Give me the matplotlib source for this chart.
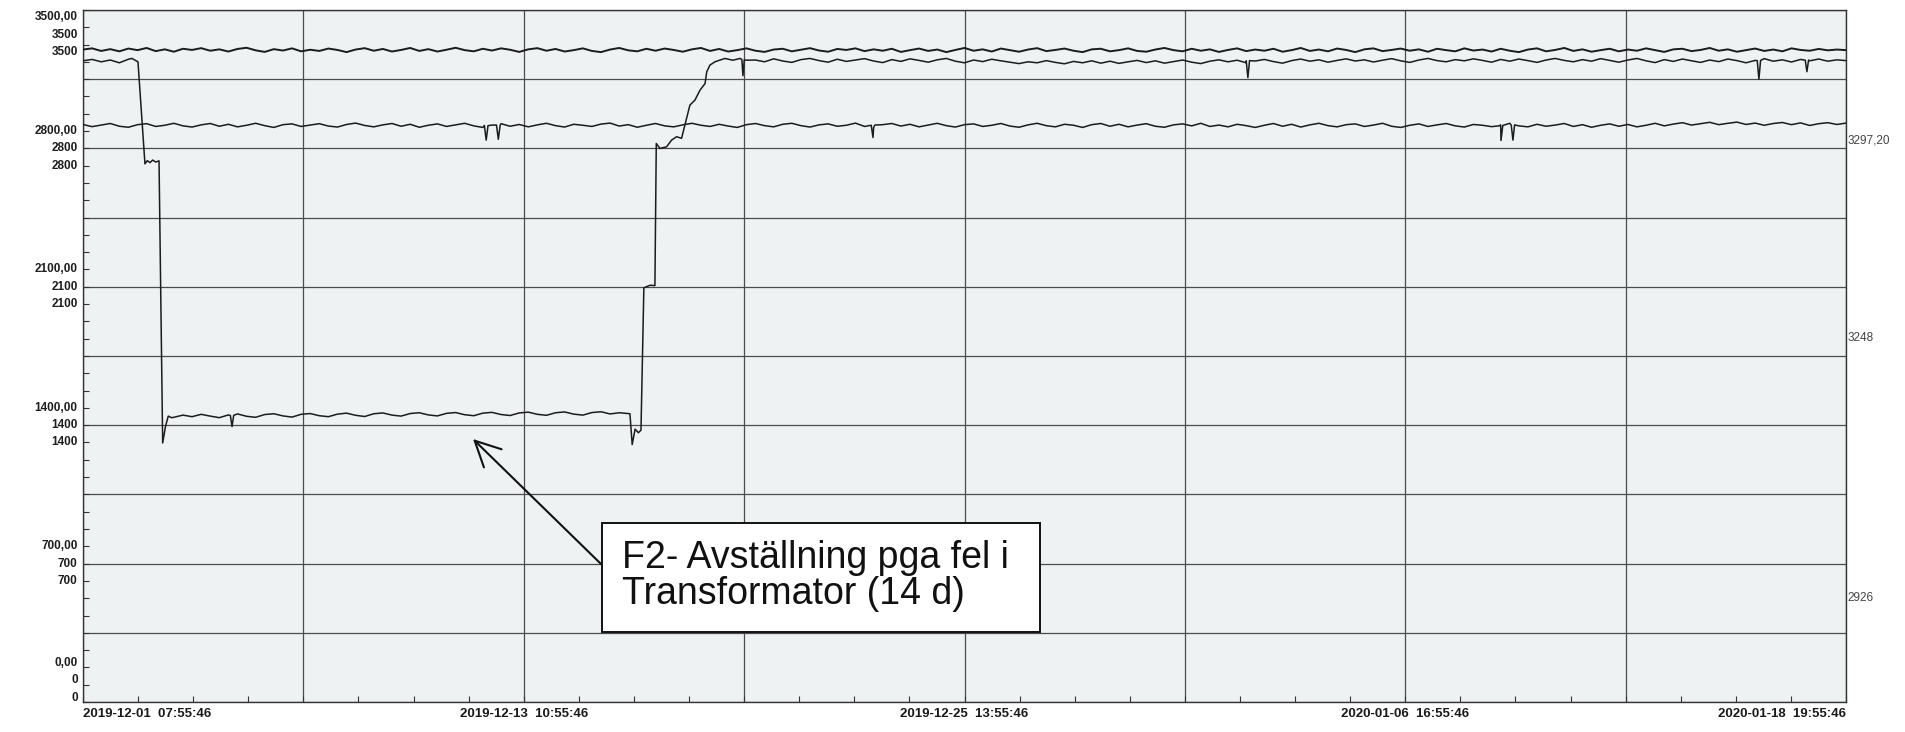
import numpy as np
import pandas as pd
import matplotlib
matplotlib.use("Agg")
import matplotlib.pyplot as plt
from matplotlib.patches import Rectangle
from matplotlib.transforms import blended_transform_factory

plt.rcParams['font.family'] = ['Liberation Sans', 'DejaVu Sans']

# ---------------- data ----------------
START = pd.Timestamp("2019-12-01 07:55:46")
SPAN_HOURS = 1164          # 2019-12-01 07:55:46 -> 2020-01-18 19:55:46
STEP_HOURS = 6             # spacing of the regular readings
DIV_HOURS = 145.5          # one vertical grid division

x_tick_labels = ["2019-12-01  07:55:46", "2019-12-13  10:55:46",
                 "2019-12-25  13:55:46", "2020-01-06  16:55:46",
                 "2020-01-18  19:55:46"]

y_levels = [0, 700, 1400, 2100, 2800, 3500]
y_labels_upper = ["0,00", "700,00", "1400,00", "2100,00", "2800,00", "3500,00"]
y_labels_mid = ["0", "700", "1400", "2100", "2800", "3500"]
y_labels_low = ["0", "700", "1400", "2100", "2800", "3500"]

right_labels = ["3297,20", "3248", "2926"]

# Series A (top line), every 6 h
a_vals = [
    3300, 3306, 3293, 3302, 3291, 3305, 3297, 3308, 3292, 3301, 3289, 3304, 3298,
    3307, 3294, 3301, 3290, 3303, 3309, 3296, 3288, 3302, 3295, 3306, 3291, 3299,
    3293, 3305, 3298, 3287, 3300, 3307, 3294, 3303, 3290, 3298, 3308, 3293, 3302,
    3290, 3299, 3309, 3297, 3291, 3304, 3295, 3306, 3299, 3288, 3301, 3307, 3294,
    3303, 3290, 3297, 3306, 3293, 3287, 3300, 3308, 3296, 3291, 3304, 3294, 3305,
    3298, 3289, 3301, 3308, 3293, 3303, 3290, 3297, 3306, 3294, 3288, 3300, 3304,
    3291, 3299, 3307, 3295, 3289, 3303, 3298, 3306, 3292, 3301, 3294, 3304, 3288,
    3297, 3305, 3293, 3300, 3287, 3298, 3308, 3294, 3301, 3290, 3305, 3297, 3289,
    3300, 3307, 3292, 3298, 3305, 3294, 3287, 3301, 3304, 3291, 3297, 3306, 3293,
    3289, 3300, 3308, 3297, 3291, 3304, 3294, 3301, 3288, 3298, 3306, 3292, 3300,
    3294, 3304, 3289, 3297, 3308, 3293, 3300, 3291, 3305, 3298, 3287, 3301, 3306,
    3292, 3298, 3305, 3294, 3301, 3289, 3304, 3297, 3291, 3306, 3295, 3300, 3290,
    3304, 3294, 3287, 3300, 3306, 3291, 3298, 3308, 3293, 3301, 3289, 3297, 3304,
    3291, 3300, 3294, 3306, 3297, 3288, 3301, 3304, 3292, 3298, 3308, 3294, 3301,
    3289, 3297, 3305, 3293, 3300, 3291, 3306, 3298, 3294, 3303, 3296, 3300, 3297,
]

# Series C (lower steady line), every 6 h
c_vals = [
    2921, 2910, 2918, 2926, 2912, 2907, 2920, 2925, 2911, 2917, 2927, 2914, 2908,
    2919, 2926, 2912, 2922, 2909, 2917, 2927, 2915, 2906, 2920, 2924, 2911, 2918,
    2925, 2913, 2908, 2921, 2928, 2916, 2909, 2919, 2926, 2912, 2922, 2907, 2917,
    2924, 2911, 2919, 2927, 2914, 2906, 2918, 2925, 2912, 2921, 2909, 2919, 2927,
    2915, 2908, 2922, 2917, 2911, 2923, 2928, 2913, 2920, 2907, 2917, 2926, 2914,
    2909, 2919, 2927, 2917, 2911, 2922, 2913, 2906, 2920, 2926, 2915, 2909, 2922,
    2927, 2915, 2908, 2919, 2924, 2912, 2917, 2928, 2911, 2906, 2920, 2926, 2913,
    2922, 2909, 2918, 2927, 2915, 2908, 2920, 2924, 2911, 2917, 2926, 2913, 2907,
    2919, 2927, 2915, 2909, 2922, 2917, 2906, 2920, 2926, 2912, 2922, 2909, 2918,
    2925, 2912, 2907, 2919, 2924, 2914, 2927, 2911, 2918, 2909, 2922, 2915, 2906,
    2917, 2926, 2912, 2922, 2908, 2919, 2927, 2915, 2909, 2920, 2924, 2911, 2918,
    2927, 2912, 2906, 2917, 2924, 2911, 2919, 2926, 2914, 2908, 2921, 2917, 2910,
    2919, 2927, 2914, 2909, 2922, 2912, 2918, 2926, 2911, 2920, 2907, 2917, 2924,
    2912, 2921, 2909, 2917, 2927, 2914, 2923, 2930, 2918, 2925, 2932, 2920, 2927,
    2933, 2921, 2928, 2917, 2926, 2931, 2920, 2929, 2916, 2925, 2930, 2921, 2928,
]
c_dip_hours = [265.0, 266.2, 267.4, 273.0, 274.2, 275.4, 520.4, 521.6, 522.8,
               935.0, 936.2, 937.4, 943.0, 944.1, 945.2]
c_dip_vals = [2916, 2842, 2915, 2918, 2846, 2916, 2917, 2855, 2918,
              2914, 2840, 2916, 2917, 2842, 2919]

# Series B (unit with the outage)
b_pre_hours = [0, 6, 12, 18, 24, 30, 32.3, 34.5, 36.3, 40.9, 42.5, 44.2, 46.0,
               48.0, 50.2, 52.6, 54.5, 56.3, 58.5]
b_pre_vals = [3243, 3250, 3238, 3247, 3233, 3251, 3255, 3246, 3238, 2722, 2738,
              2728, 2741, 2731, 2737, 1310, 1395, 1446, 1438]
b_off_start = 60            # regular 6 h readings during the stop
b_off_vals = [
    1440, 1451, 1443, 1455, 1446, 1438, 1452, 1457, 1445, 1440, 1454, 1458, 1447,
    1441, 1455, 1459, 1448, 1443, 1456, 1461, 1450, 1444, 1458, 1462, 1451, 1446,
    1459, 1463, 1452, 1447, 1460, 1464, 1453, 1448, 1461, 1465, 1454, 1449, 1462,
    1466, 1455, 1450, 1463, 1467, 1456, 1451, 1464, 1468, 1457, 1463, 1459,
]
b_rise_hours = [361.1, 362.6, 364.5, 366.7, 368.4, 370.3, 374.5, 377.6, 378.5,
                380.9, 385.3, 388.6, 391.9, 395.2, 397.4, 400.7, 404.0, 407.4,
                410.7, 411.8, 413.9, 417.2, 423.8, 429.1, 433.8, 435.0, 435.7,
                436.6, 438.1]
b_rise_vals = [1458, 1302, 1380, 1362, 1375, 2095, 2108, 2106, 2825,
               2800, 2808, 2842, 2859, 2851, 2918, 3019, 3044, 3095,
               3128, 3187, 3221, 3238, 3255, 3246, 3255, 3250, 3168,
               3248, 3246]
b_on_start = 444            # regular 6 h readings after restart
b_on_vals = [
    3247, 3238, 3253, 3242, 3235, 3249, 3255, 3244, 3236, 3251, 3240, 3247, 3254,
    3242, 3234, 3249, 3240, 3253, 3245, 3236, 3248, 3255, 3241, 3233, 3247, 3239,
    3251, 3243, 3236, 3229, 3238, 3233, 3244, 3235, 3228, 3240, 3233, 3243, 3231,
    3241, 3230, 3238, 3245, 3234, 3243, 3231, 3239, 3247, 3236, 3229, 3241, 3248,
    3238, 3246, 3233, 3242, 3250, 3239, 3231, 3244, 3252, 3241, 3248, 3236, 3245,
    3253, 3242, 3248, 3237, 3246, 3254, 3243, 3235, 3247, 3255, 3244, 3238, 3249,
    3243, 3253, 3245, 3236, 3250, 3241, 3252, 3244, 3235, 3247, 3255, 3245, 3238,
    3249, 3241, 3254, 3245, 3236, 3247, 3255, 3243, 3234, 3249, 3240, 3252, 3243,
    3235, 3247, 3239, 3252, 3244, 3233, 3245, 3254, 3241, 3248, 3237, 3250, 3243,
    3252, 3241, 3248, 3244,
]
b_dip_hours = [97.3, 98.4, 99.5, 768.0, 769.1, 770.2, 1105.4, 1106.5, 1107.6,
               1137.1, 1138.2, 1139.3]
b_dip_vals = [1449, 1393, 1450, 3243, 3158, 3244, 3244, 3150, 3245,
              3246, 3188, 3247]

annotation_text = "F2- Avställning pga fel i\nTransformator (14 d)"
arrow_tip_hours = 257.5
arrow_tip_value = 1330


# ---------------- helpers ----------------
def to_time(hours):
    return START + pd.to_timedelta(np.asarray(hours, dtype=float), unit="h")


def merge(h1, v1, h2, v2):
    h = np.concatenate([np.asarray(h1, float), np.asarray(h2, float)])
    v = np.concatenate([np.asarray(v1, float), np.asarray(v2, float)])
    order = np.argsort(h, kind="stable")
    return h[order], v[order]


a_h, a_v = np.arange(len(a_vals)) * STEP_HOURS, np.asarray(a_vals, float)
c_h, c_v = merge(np.arange(len(c_vals)) * STEP_HOURS, c_vals, c_dip_hours, c_dip_vals)

b_off_hours = b_off_start + np.arange(len(b_off_vals)) * STEP_HOURS
b_on_hours = b_on_start + np.arange(len(b_on_vals)) * STEP_HOURS
b_h = np.concatenate([b_pre_hours, b_off_hours, b_rise_hours, b_on_hours])
b_v = np.concatenate([b_pre_vals, b_off_vals, b_rise_vals, b_on_vals])
b_h, b_v = merge(b_h, b_v, b_dip_hours, b_dip_vals)

# ---------------- figure ----------------
W, H, DPI = 1905, 732, 100
fig = plt.figure(figsize=(W / DPI, H / DPI), dpi=DPI, facecolor="white")
ax = fig.add_axes([83 / W, 1 - 702 / H, (1846 - 83) / W, (702 - 10) / H])
ax.set_facecolor("#eef2f2")

line_col = "#1c1c1c"
ax.plot(to_time(a_h), a_v, color=line_col, lw=1.4, zorder=3)
ax.plot(to_time(b_h), b_v, color=line_col, lw=1.1, zorder=3)
ax.plot(to_time(c_h), c_v, color=line_col, lw=1.1, zorder=3)

ax.set_xlim(to_time([0])[0], to_time([SPAN_HOURS])[0])
ax.set_ylim(0, 3500)

# grid / ticks
major_x = to_time(np.arange(0, SPAN_HOURS + 1, DIV_HOURS))
minor_x = to_time(np.arange(0, SPAN_HOURS + 1, DIV_HOURS / 4))
ax.set_xticks(major_x)
ax.set_xticks(minor_x, minor=True)
labels = []
k = 0
for i in range(len(major_x)):
    if i % 2 == 0:
        labels.append(x_tick_labels[k])
        k += 1
    else:
        labels.append("")
ax.set_xticklabels(labels, fontsize=9.5, color="#1a1a1a", fontweight="bold")
tl = ax.get_xticklabels()
tl[0].set_horizontalalignment("left")
tl[-1].set_horizontalalignment("right")

ax.set_yticks(np.arange(0, 3501, 350))
ax.set_yticks(np.arange(0, 3501, 87.5), minor=True)
ax.tick_params(axis="y", which="both", direction="in", length=4, width=0.8,
               color="#333333", labelleft=False)
ax.tick_params(axis="x", which="both", direction="in", length=4, width=0.8,
               color="#333333", pad=4)

ax.grid(True, which="major", color="#4c4c4c", lw=0.9)
for s in ax.spines.values():
    s.set_color("#333333")
    s.set_linewidth(1.0)

# stacked left labels (three scales)
trans = blended_transform_factory(ax.transAxes, ax.transData)
for v, lu, lm, ll in zip(y_levels, y_labels_upper, y_labels_mid, y_labels_low):
    c = min(max(v, 110), 3375)
    for lab, off in ((lu, 87.5), (lm, 0.0), (ll, -87.5)):
        ax.text(-0.003, c + off, lab, transform=trans, ha="right", va="center",
                fontsize=8.5, color="#1e1e1e", fontweight="bold")

# right side labels
for lab, yf in zip(right_labels, (0.812, 0.526, 0.150)):
    ax.text(1.001, yf, lab, transform=ax.transAxes, ha="left", va="center",
            fontsize=8.5, color="#444444")

# annotation: box, text and arrow
ax.add_patch(Rectangle((0.2944, 0.1012), 0.2484, 0.1575, transform=ax.transAxes,
                       facecolor="white", edgecolor="#111111", lw=1.4, zorder=5))
ax.text(0.3057, 0.182, annotation_text, transform=ax.transAxes, ha="left",
        va="center", fontsize=27, linespacing=1.0, color="#111111", zorder=6)
ax.annotate("", xy=(to_time([arrow_tip_hours])[0], arrow_tip_value),
            xytext=(0.2944, 0.198), textcoords="axes fraction",
            arrowprops=dict(arrowstyle="->,head_length=0.7,head_width=0.35",
                            color="#111111", lw=1.5, shrinkA=0, shrinkB=0,
                            mutation_scale=26),
            zorder=6)

fig.savefig("out.png", dpi=DPI, facecolor="white")
